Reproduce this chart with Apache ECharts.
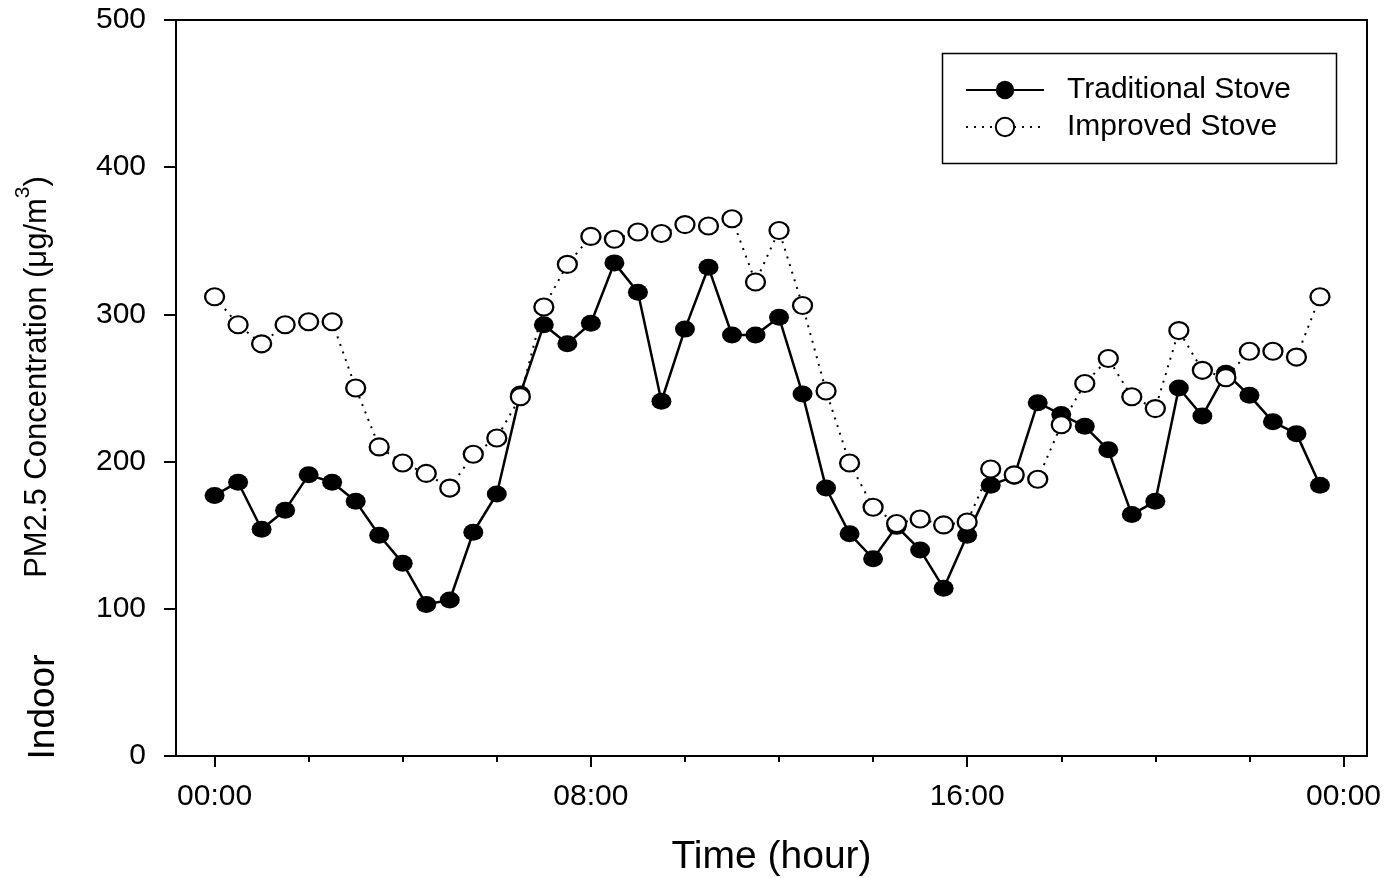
<!DOCTYPE html>
<html>
<head>
<meta charset="utf-8">
<script src="https://cdn.jsdelivr.net/npm/echarts@6/dist/echarts.min.js"></script>
<style>
html,body{margin:0;padding:0;background:#fff;}
#chart{width:1399px;height:878px;}
</style>
</head>
<body>
<div id="chart"></div>
<script>
// Time of day in hours (half-hour samples)
const hours = [0,0.5,1,1.5,2,2.5,3,3.5,4,4.5,5,5.5,6,6.5,7,7.5,8,8.5,9,9.5,10,10.5,11,11.5,
               12,12.5,13,13.5,14,14.5,15,15.5,16,16.5,17,17.5,18,18.5,19,19.5,20,20.5,21,21.5,22,22.5,23,23.5];
const traditionalStove = [177,186,154,167,191,186,173,150,131,103,106,152,178,246,293,280,294,335,315,241,290,332,286,286,
                          298,246,182,151,134,156,140,114,150,184,190,240,232,224,208,164,173,250,231,260,245,227,219,184];
const improvedStove = [312,293,280,293,295,295,250,210,199,192,182,205,216,244,305,334,353,351,356,355,361,360,365,322,
                       357,306,248,199,169,158,161,157,159,195,191,188,225,253,270,244,236,289,262,257,275,275,271,312];
const majorTickValues = [0,8,16,24];
const majorTickLabels = ['00:00','08:00','16:00','00:00'];
const minorTickValues = [2,4,6,10,12,14,18,20,22];
const seriesNames = ['Traditional Stove','Improved Stove'];

const FONT = '"Liberation Sans", Arial, Helvetica, sans-serif';
const chart = echarts.init(document.getElementById('chart'), null, {renderer:'canvas'});

const xMin = -0.82, xMax = 24.5;

const option = {
  animation: false,
  backgroundColor: '#fff',
  grid: {left:176, right:32, top:20, bottom:122, show:true, borderColor:'#000', borderWidth:2,
         outerBoundsMode:'none', containLabel:false},
  legend: {
    orient:'vertical', left:965, top:75, itemWidth:78, itemHeight:23, itemGap:7, padding:0,
    textStyle:{fontSize:30, fontFamily:FONT, color:'#000', padding:[0,0,0,18]},
    data: seriesNames
  },
  xAxis: [
    {
      type:'value', min:xMin, max:xMax, position:'bottom',
      name:'Time (hour)', nameLocation:'middle', nameGap:82,
      nameTextStyle:{fontSize:39, fontFamily:FONT, color:'#000'},
      axisLine:{show:true, onZero:false, lineStyle:{color:'#000', width:2}},
      axisTick:{show:true, inside:false, length:11, customValues:majorTickValues, lineStyle:{color:'#000', width:2}},
      axisLabel:{show:true, customValues:majorTickValues, margin:26, fontSize:30, fontFamily:FONT, color:'#000',
        formatter:function(v){const i = majorTickValues.indexOf(v); return i>=0 ? majorTickLabels[i] : '';}},
      splitLine:{show:false}
    },
    {
      type:'value', min:xMin, max:xMax, position:'bottom',
      axisLine:{show:false, onZero:false},
      axisTick:{show:true, inside:false, length:6, customValues:minorTickValues, lineStyle:{color:'#000', width:2}},
      axisLabel:{show:false},
      splitLine:{show:false}
    }
  ],
  yAxis: {
    type:'value', min:0, max:500, interval:100, position:'left',
    axisLine:{show:true, onZero:false, lineStyle:{color:'#000', width:2}},
    axisTick:{show:true, inside:false, length:12, lineStyle:{color:'#000', width:2}},
    axisLabel:{margin:30, fontSize:30, fontFamily:FONT, color:'#000'},
    splitLine:{show:false}
  },
  graphic: [
    {type:'rect', shape:{x:942.5, y:53.5, width:394, height:110},
     style:{fill:'none', stroke:'#000', lineWidth:1.5}, z:100},
    {type:'text', x:44, y:707, rotation:Math.PI/2,
     style:{text:'Indoor', fontSize:37, fontFamily:FONT, fill:'#000', align:'center', verticalAlign:'middle'}},
    {type:'text', x:33, y:377, rotation:Math.PI/2,
     style:{text:'{a|PM2.5 Concentration (μg/m}{s|3}{a|)}', align:'center', verticalAlign:'middle', fill:'#000',
       rich:{a:{fontSize:31, fontFamily:FONT, fill:'#000', lineHeight:40, verticalAlign:'bottom'},
             s:{fontSize:21, fontFamily:FONT, fill:'#000', verticalAlign:'top', lineHeight:40}}}}
  ],
  series: [
    {
      name:seriesNames[0], type:'line', xAxisIndex:0,
      data: hours.map((h,i)=>[h, traditionalStove[i]]),
      symbol:'circle', symbolSize:[20,17],
      itemStyle:{color:'#000'},
      lineStyle:{color:'#000', width:2.5, type:'solid'},
      z:2
    },
    {
      name:seriesNames[1], type:'line', xAxisIndex:0,
      data: hours.map((h,i)=>[h, improvedStove[i]]),
      symbol:'circle', symbolSize:[19,17],
      itemStyle:{color:'#fff', borderColor:'#000', borderWidth:2.2},
      lineStyle:{color:'#000', width:2, type:[2,6]},
      z:3
    }
  ]
};
chart.setOption(option);
</script>
</body>
</html>
